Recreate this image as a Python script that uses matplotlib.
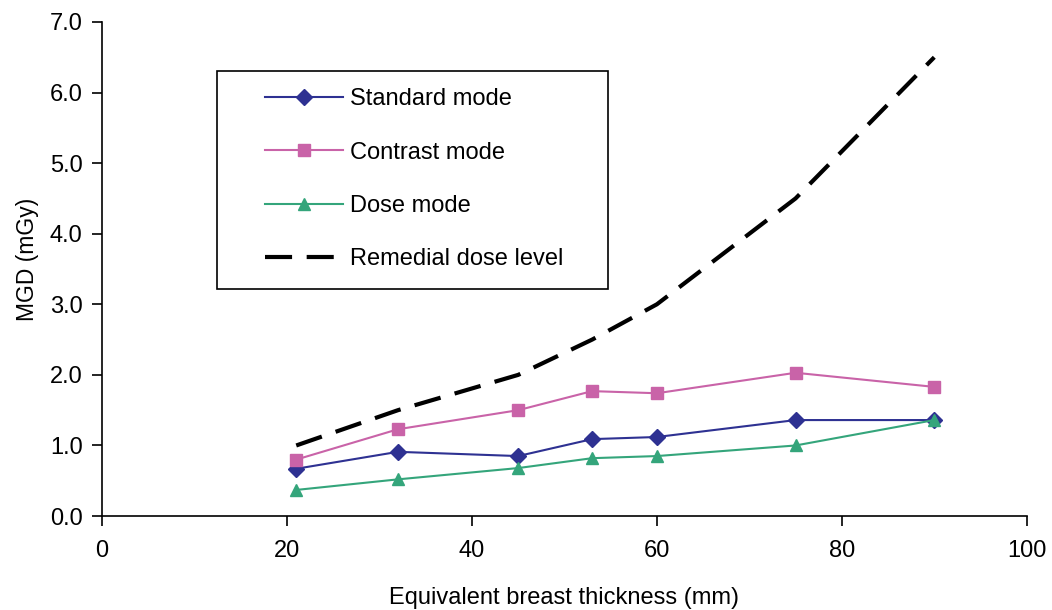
import matplotlib.pyplot as plt
from matplotlib.patches import Rectangle

plt.rcParams['font.family'] = ['Liberation Sans', 'DejaVu Sans']

thickness = [21, 32, 45, 53, 60, 75, 90]
standard = [0.67, 0.91, 0.85, 1.09, 1.12, 1.36, 1.36]
contrast = [0.80, 1.23, 1.50, 1.77, 1.74, 2.03, 1.83]
dose = [0.37, 0.52, 0.68, 0.82, 0.85, 1.00, 1.36]
remedial = [1.0, 1.5, 2.0, 2.5, 3.0, 4.5, 6.5]

fig = plt.figure(figsize=(10.52, 6.1), dpi=100)
ax = fig.add_axes([0.097, 0.154, 0.879, 0.81])

ax.plot(thickness, standard, color="#2E3192", marker="D", markersize=8, lw=1.5, label="Standard mode")
ax.plot(thickness, contrast, color="#C963A8", marker="s", markersize=8, lw=1.5, label="Contrast mode")
ax.plot(thickness, dose, color="#34A57B", marker="^", markersize=9, lw=1.5, label="Dose mode")
ax.plot(thickness, remedial, color="black", lw=3, dashes=(6.5, 3.5), label="Remedial dose level")

ax.set_xlim(0, 100)
ax.set_ylim(0, 7)
ax.set_xticks(range(0, 101, 20))
ax.set_yticks(range(0, 8))
ax.set_yticklabels([f"{v:.1f}" for v in range(0, 8)])
ax.tick_params(labelsize=17, length=7, width=1.2, direction="out")
ax.tick_params(axis="x", pad=10)
ax.tick_params(axis="y", pad=7)
ax.spines["top"].set_visible(False)
ax.spines["right"].set_visible(False)
ax.spines["left"].set_linewidth(1.2)
ax.spines["bottom"].set_linewidth(1.2)

ax.set_xlabel("Equivalent breast thickness (mm)", fontsize=17, labelpad=18)
ax.set_ylabel("MGD (mGy)", fontsize=16.5)
ax.yaxis.set_label_coords(-0.068, 0.52)

# legend box drawn separately so the padding can differ per side
ax.add_patch(Rectangle((0.124, 0.46), 0.423, 0.441, transform=ax.transAxes,
                       facecolor="white", edgecolor="black", lw=1.2, zorder=3))
leg = ax.legend(loc="upper left", bbox_to_anchor=(0.176, 0.866), fontsize=17,
                frameon=False, handlelength=3.3, labelspacing=1.33,
                borderpad=0, handletextpad=0.3, borderaxespad=0)
leg.set_zorder(4)

fig.savefig("out.png", dpi=100)
